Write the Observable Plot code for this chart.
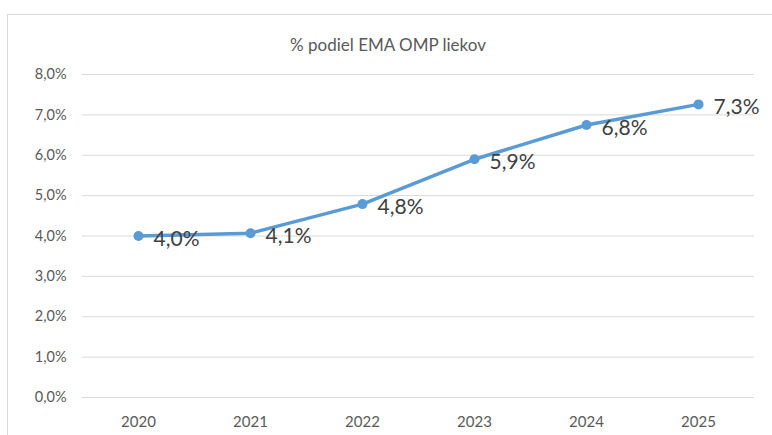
<!DOCTYPE html>
<html>
<head>
<meta charset="utf-8">
<script src="https://cdn.jsdelivr.net/npm/d3@7"></script>
<script src="https://cdn.jsdelivr.net/npm/@observablehq/plot@0.6"></script>
<style>
  html, body { margin: 0; padding: 0; background: #fff; }
  #wrap { position: relative; width: 772px; height: 435px; overflow: hidden; font-family: Lato, "Open Sans", sans-serif; }
  #frame { position: absolute; left: 7px; top: 14px; width: 800px; height: 500px; border: 1px solid #d9d9d9; box-sizing: border-box; }
  #title { position: absolute; left: 0; width: 776px; top: 34px; text-align: center; font-size: 17px; color: #595959; }
  #chart { position: absolute; left: 0; top: 0; }
</style>
</head>
<body>
<div id="wrap">
  <div id="frame"></div>
  <div id="chart"></div>
  <div id="title">% podiel EMA OMP liekov</div>
</div>
<script>
const years = ["2020", "2021", "2022", "2023", "2024", "2025"];
const shares = [0.0400, 0.0407, 0.0479, 0.0590, 0.0675, 0.0726];
const labels = ["4,0%", "4,1%", "4,8%", "5,9%", "6,8%", "7,3%"];
const yTicks = [0, 0.01, 0.02, 0.03, 0.04, 0.05, 0.06, 0.07, 0.08];

const data = years.map((y, i) => ({year: y, value: shares[i], label: labels[i]}));
const fmt = d => (d * 100).toFixed(1).replace(".", ",") + "%";
const blue = "#5B9BD5";

const chart = Plot.plot({
  width: 772,
  height: 435,
  marginLeft: 82,
  marginRight: 18,
  marginTop: 74,
  marginBottom: 38,
  style: {fontFamily: "Lato, 'Open Sans', sans-serif", background: "transparent"},
  x: {type: "point", domain: years, padding: 0.5, label: null},
  y: {domain: [0, 0.08], label: null},
  marks: [
    Plot.gridY(yTicks, {stroke: "#d9d9d9", strokeOpacity: 1, strokeWidth: 1}),
    Plot.axisY(yTicks, {tickSize: 0, tickPadding: 16, tickFormat: fmt, fontSize: 14.5, fill: "#595959", label: null}),
    Plot.axisX(years, {tickSize: 0, tickPadding: 19, fontSize: 15, fill: "#595959", label: null}),
    Plot.line(data, {x: "year", y: "value", stroke: blue, strokeWidth: 3.5, curve: "linear"}),
    Plot.dot(data, {x: "year", y: "value", r: 5, fill: blue}),
    Plot.text(data, {x: "year", y: "value", text: "label", textAnchor: "start", dx: 15, dy: 3, fontSize: 21, fill: "#404040"})
  ]
});
document.getElementById("chart").appendChild(chart);
</script>
</body>
</html>
